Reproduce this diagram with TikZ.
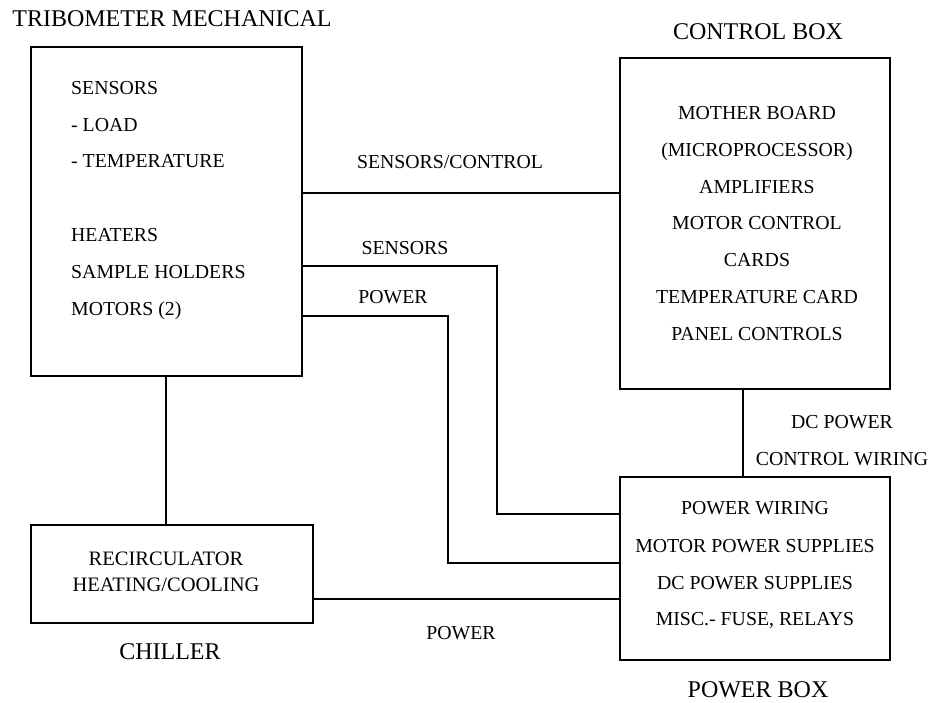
\documentclass[tikz,border=0pt]{standalone}
\usepackage{fontspec}
\setmainfont{Liberation Serif}
\begin{document}
\begin{tikzpicture}[x=1pt,y=-1pt,
  box/.style={draw,line width=1.1pt,rectangle,inner sep=0pt},
  wire/.style={line width=1.1pt},
  txt/.style={inner sep=0pt,font=\fontsize{19.8}{22}\selectfont},
  ctxt/.style={inner sep=0pt,font=\fontsize{20.5}{22}\selectfont},
  ttl/.style={inner sep=0pt,font=\fontsize{24}{28}\selectfont}]
\useasboundingbox (0,0) rectangle (932,703);
% boxes
\node[box,minimum width=271pt,minimum height=329pt] (tri) at (166.5,211.5) {};
\node[box,minimum width=270pt,minimum height=331pt] (ctl) at (755,223.5) {};
\node[box,minimum width=270pt,minimum height=183pt] (pwr) at (755,568.5) {};
\node[box,minimum width=282pt,minimum height=98pt] (chl) at (172,574) {};
% titles
\node[ttl,anchor=base] (ttri) at (172,27) {TRIBOMETER MECHANICAL};
\node[ttl,anchor=base] (tctl) at (758,40) {CONTROL BOX};
\node[ttl,anchor=base] (tpwr) at (758,697.5) {POWER BOX};
\node[ttl,anchor=base] (tchl) at (170,659) {CHILLER};
% tribometer contents
\node[txt,anchor=base west] (t1) at (71,95) {SENSORS};
\node[txt,anchor=base west] (t2) at (71,132) {- LOAD};
\node[txt,anchor=base west] (t3) at (71,168) {- TEMPERATURE};
\node[txt,anchor=base west] (t4) at (71,242) {HEATERS};
\node[txt,anchor=base west] (t5) at (71,279) {SAMPLE HOLDERS};
\node[txt,anchor=base west] (t6) at (71,316) {MOTORS (2)};
% control box contents
\node[txt,anchor=base] (c1) at (757,120) {MOTHER BOARD};
\node[txt,anchor=base] (c2) at (757,157) {(MICROPROCESSOR)};
\node[txt,anchor=base] (c3) at (757,194) {AMPLIFIERS};
\node[txt,anchor=base] (c4) at (757,230) {MOTOR CONTROL};
\node[txt,anchor=base] (c5) at (757,267) {CARDS};
\node[txt,anchor=base] (c6) at (757,304) {TEMPERATURE CARD};
\node[txt,anchor=base] (c7) at (757,341) {PANEL CONTROLS};
% power box contents
\node[txt,anchor=base] (p1) at (755,514) {POWER WIRING};
\node[txt,anchor=base] (p2) at (755,552) {MOTOR POWER SUPPLIES};
\node[txt,anchor=base] (p3) at (755,589) {DC POWER SUPPLIES};
\node[txt,anchor=base] (p4) at (755,625) {MISC.- FUSE, RELAYS};
% chiller contents
\node[ctxt,anchor=base] (h1) at (166,565) {RECIRCULATOR};
\node[ctxt,anchor=base] (h2) at (166,591) {HEATING/COOLING};
% connector labels
\node[txt,anchor=base] (l1) at (450,169) {SENSORS/CONTROL};
\node[txt,anchor=base] (l2) at (405,255) {SENSORS};
\node[txt,anchor=base] (l3) at (393,304) {POWER};
\node[txt,anchor=base] (l4) at (842,428) {DC POWER};
\node[txt,anchor=base] (l5) at (842,465) {CONTROL WIRING};
\node[txt,anchor=base] (l6) at (461,639) {POWER};
% connector bends
\coordinate (sb) at (497,514);
\coordinate (pb) at (448,563);
% connectors
\draw[wire] (tri.east |- 0,193) -- (ctl.west |- 0,193);
\draw[wire] (tri.east |- 0,266) -| (sb) -- (pwr.west |- sb);
\draw[wire] (tri.east |- 0,316) -| (pb) -- (pwr.west |- pb);
\draw[wire] (tri.south -| 166,0) -- (chl.north -| 166,0);
\draw[wire] (ctl.south -| 743,0) -- (pwr.north -| 743,0);
\draw[wire] (chl.east |- 0,599) -- (pwr.west |- 0,599);
\end{tikzpicture}
\end{document}
